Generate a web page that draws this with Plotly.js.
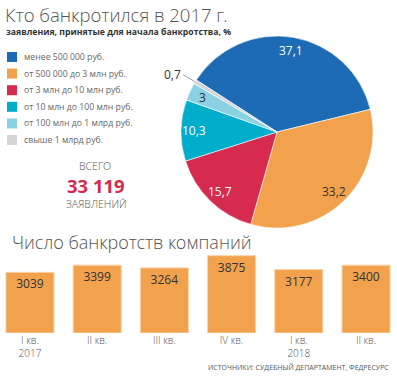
<!DOCTYPE html>
<html><head><meta charset="utf-8">
<script src="https://cdn.plot.ly/plotly-3.0.1.min.js"></script>
<style>html,body{margin:0;padding:0;background:#fff;}#chart{width:397px;height:380px;}</style>
</head><body><div id="chart"></div>
<script>
// ---- data ----
const pieCategories = ["менее 500 000 руб.", "от 500 000 до 3 млн руб.", "от 3 млн до 10 млн руб.", "от 10 млн до 100 млн руб.", "от 100 млн до 1 млрд руб.", "свыше 1 млрд руб."];
const pieValues = [37.1, 33.2, 15.7, 10.3, 3, 0.7];
const pieColors = ["#1D6AB5", "#F2A14C", "#D62A4F", "#00ADCB", "#8AD2E3", "#D4D5D6"];
const pieLabelColors = ["#ffffff", "#333333", "#ffffff", "#ffffff", "#333333", "#333333"];
const totalApplications = "33 119";
const barCategories = ["I кв.<br>2017", "II кв.", "III кв.", "IV кв.", "I кв.<br>2018", "II кв."];
const barValues = [3039, 3399, 3264, 3875, 3177, 3400];

// ---- layout constants ----
const W = 397, H = 380;
const FONT = "'Open Sans', 'DejaVu Sans', sans-serif";
const LIGHT = "'Open Sans Light', 'Lato Light', 'Open Sans', sans-serif";
const pieCx = 277, pieCy = 132, pieR = 96;
const pieRotation = -57.2;
const px = x => x / W, py = y => 1 - y / H;

const fmt = v => String(v).replace('.', ',');

const pieTrace = {
  type: 'pie', values: pieValues, labels: pieCategories, sort: false, direction: 'clockwise',
  rotation: pieRotation, textinfo: 'none', hoverinfo: 'none', showlegend: false,
  marker: {colors: pieColors, line: {color: '#ffffff', width: 0.6}},
  domain: {x: [px(pieCx - pieR), px(pieCx + pieR)], y: [py(pieCy + pieR), py(pieCy - pieR)]}
};

const barTrace = {
  type: 'bar', x: barCategories.map((c, i) => i), y: barValues,
  text: barValues.map(String), textposition: 'inside', insidetextanchor: 'end',
  textangle: 0, constraintext: 'none',
  insidetextfont: {family: FONT, size: 12, color: '#333333'},
  marker: {color: '#F2A14C', line: {color: '#FAD3A9', width: 1}},
  xaxis: 'x', yaxis: 'y', hoverinfo: 'none', showlegend: false
};

const annotations = [];
const shapes = [];

// pie labels from data
const total = pieValues.reduce((a, b) => a + b, 0);
let start = pieRotation;
pieValues.forEach((v, i) => {
  const span = v / total * 360;
  const mid = (start + span / 2) * Math.PI / 180;
  start += span;
  if (v < 1) {
    const ex = pieCx + pieR * Math.sin(mid), ey = pieCy - pieR * Math.cos(mid);
    annotations.push({xref: 'paper', yref: 'paper', x: px(ex), y: py(ey), text: fmt(v),
      showarrow: true, arrowhead: 0, arrowwidth: 0.8, arrowcolor: '#888', ax: -12, ay: -7,
      xanchor: 'right', font: {family: FONT, size: 12, color: '#333'}});
  } else {
    const r = pieR * 0.86;
    const lx = pieCx + r * Math.sin(mid), ly = pieCy - r * Math.cos(mid);
    annotations.push({xref: 'paper', yref: 'paper', x: px(lx), y: py(ly), text: fmt(v),
      showarrow: false, xanchor: 'center', yanchor: 'middle',
      font: {family: FONT, size: 12, color: pieLabelColors[i]}});
  }
});

// custom legend
const legTop = 57, legStep = 16.6;
pieCategories.forEach((c, i) => {
  const cy = legTop + i * legStep;
  shapes.push({type: 'rect', xref: 'paper', yref: 'paper', x0: px(7), x1: px(17), y0: py(cy + 5), y1: py(cy - 5),
    fillcolor: pieColors[i], line: {width: 0}});
  annotations.push({xref: 'paper', yref: 'paper', x: px(22), y: py(cy), text: c, showarrow: false,
    xanchor: 'left', yanchor: 'middle', font: {family: FONT, size: 8.7, color: '#666'}});
});

// titles & texts
annotations.push(
  {xref: 'paper', yref: 'paper', x: px(3), y: py(14), text: 'Кто банкротился в 2017 г.', showarrow: false,
   xanchor: 'left', yanchor: 'middle', font: {family: LIGHT, size: 18.5, color: '#555', weight: 300}},
  {xref: 'paper', yref: 'paper', x: px(4), y: py(32), text: '<b>заявления, принятые для начала банкротства, %</b>', showarrow: false,
   xanchor: 'left', yanchor: 'middle', font: {family: FONT, size: 8.7, color: '#333'}},
  {xref: 'paper', yref: 'paper', x: px(95), y: py(165.5), text: 'ВСЕГО', showarrow: false, borderpad: 0,
   xanchor: 'center', yanchor: 'middle', font: {family: LIGHT, size: 10.5, color: '#555', weight: 300}},
  {xref: 'paper', yref: 'paper', x: px(96), y: py(185), text: totalApplications, showarrow: false, borderpad: 0,
   xanchor: 'center', yanchor: 'middle', font: {family: FONT, size: 18.5, color: '#D62A4F', weight: 700}},
  {xref: 'paper', yref: 'paper', x: px(96), y: py(204), text: 'ЗАЯВЛЕНИЙ', showarrow: false, borderpad: 0,
   xanchor: 'center', yanchor: 'middle', font: {family: LIGHT, size: 10.5, color: '#555', weight: 300}},
  {xref: 'paper', yref: 'paper', x: px(10), y: py(242), text: 'Число банкротств компаний', showarrow: false,
   xanchor: 'left', yanchor: 'middle', font: {family: LIGHT, size: 18, color: '#555', weight: 300}},
  {xref: 'paper', yref: 'paper', x: px(391), y: py(367), text: 'ИСТОЧНИКИ: СУДЕБНЫЙ ДЕПАРТАМЕНТ, ФЕДРЕСУРС', showarrow: false,
   xanchor: 'right', yanchor: 'middle', font: {family: FONT, size: 7, color: '#555'}}
);

const layout = {
  width: W, height: H, margin: {l: 0, r: 0, t: 0, b: 0},
  paper_bgcolor: '#fff', plot_bgcolor: 'rgba(0,0,0,0)',
  font: {family: FONT},
  bargap: 0.285,
  xaxis: {domain: [0, 1], range: [-0.446, 5.461], tickvals: barCategories.map((c, i) => i), ticktext: barCategories,
    showgrid: false, zeroline: false, showline: false, ticks: '', fixedrange: true,
    tickfont: {family: LIGHT, size: 10, color: '#555'}},
  yaxis: {domain: [py(333), py(253.2)], range: [0, 4000], visible: false, fixedrange: true},
  annotations: annotations, shapes: shapes
};

Plotly.newPlot('chart', [pieTrace, barTrace], layout, {staticPlot: true, displayModeBar: false});
</script></body></html>
